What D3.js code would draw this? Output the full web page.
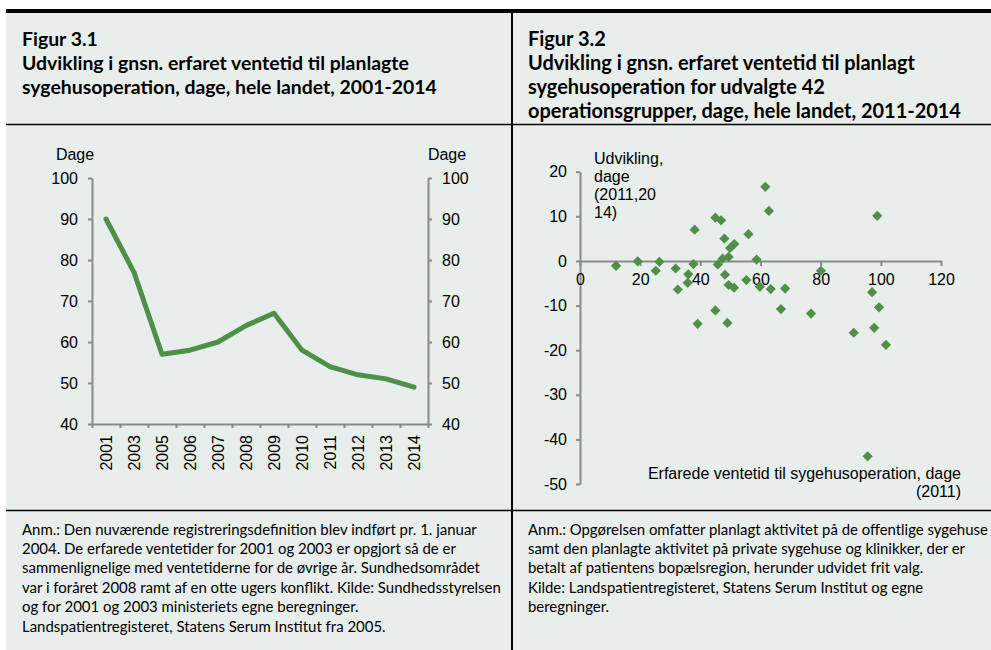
<!DOCTYPE html>
<html><head><meta charset="utf-8">
<script src="https://cdn.jsdelivr.net/npm/d3@7"></script>
<style>
body{margin:0;background:#fff}
svg text{fill:#000}
</style>
</head><body>
<svg id="c" width="991" height="650"></svg>
<script>
// ---------- data ----------
const years = ["2001","2003","2005","2006","2007","2008","2009","2010","2011","2012","2013","2014"];
const waitDays = [90,77,57,58,60,64,67,58,54,52,51,49];
const lineTicks = [40,50,60,70,80,90,100];

const wait2011 = [12.0,19.2,26.4,25.2,31.8,32.5,36.0,35.8,37.7,38.1,45.0,46.9,45.8,48.0,47.4,49.4,49.9,51.3,48.2,49.4,51.2,56.0,55.3,58.7,59.8,61.6,62.8,63.4,68.2,80.1,98.8,97.1,99.4,39.1,45.0,49.0,66.8,76.8,91.0,97.8,101.7,95.6];
const change1114 = [-1.1,-0.1,-0.2,-2.2,-1.7,-6.4,-3.0,-4.9,-0.7,7.0,9.7,9.1,-0.8,5.0,0.5,0.9,2.9,3.8,-3.1,-5.4,-6.0,6.0,-4.3,0.3,-5.8,16.6,11.2,-6.3,-6.2,-2.2,10.1,-7.0,-10.4,-14.1,-11.1,-13.9,-10.8,-11.8,-16.1,-15.0,-18.8,-43.8];
const scatterXTicks = [0,20,40,60,80,100,120];
const scatterYTicks = [-50,-40,-30,-20,-10,0,10,20];

const title1 = ["Figur 3.1","Udvikling i gnsn. erfaret ventetid til planlagte","sygehusoperation, dage, hele landet, 2001-2014"];
const title2 = ["Figur 3.2","Udvikling i gnsn. erfaret ventetid til planlagt","sygehusoperation for udvalgte 42","operationsgrupper, dage, hele landet, 2011-2014"];
const note1 = ["Anm.: Den nuværende registreringsdefinition blev indført pr. 1. januar",
"2004. De erfarede ventetider for 2001 og 2003 er opgjort så de er",
"sammenlignelige med ventetiderne for de øvrige år.  Sundhedsområdet",
"var i foråret 2008 ramt af en otte ugers konflikt. Kilde: Sundhedsstyrelsen",
"og for 2001 og 2003 ministeriets egne beregninger.",
"Landspatientregisteret, Statens Serum Institut fra 2005."];
const note2 = ["Anm.: Opgørelsen omfatter planlagt aktivitet på de offentlige sygehuse",
"samt den planlagte aktivitet på private sygehuse og klinikker, der er",
"betalt af patientens bopælsregion, herunder udvidet frit valg.",
"Kilde: Landspatientregisteret, Statens Serum Institut og egne",
"beregninger."];
const yTitle2 = ["Udvikling,","dage","(2011,20","14)"];
const xTitle2 = ["Erfarede ventetid til sygehusoperation, dage","(2011)"];

// ---------- style ----------
const GREEN = "#4f8f47", AXIS = "#8a8a8a", BG = "#e7eeeb";
const CHART_FONT = "'Liberation Sans', Arial, sans-serif";
const TEXT_FONT = "Lato, 'Open Sans', sans-serif";
const FS = 16;
const fmt = d => String(d);

const svg = d3.select("#c");

// panel background and frame
svg.append("rect").attr("x",6).attr("y",13).attr("width",985).attr("height",637).attr("fill",BG);
svg.append("rect").attr("x",6).attr("y",9).attr("width",985).attr("height",4).attr("fill","#000");
svg.append("line").attr("x1",6).attr("x2",991).attr("y1",124.5).attr("y2",124.5).attr("stroke","#000").attr("stroke-width",1.5);
svg.append("line").attr("x1",6).attr("x2",991).attr("y1",510.5).attr("y2",510.5).attr("stroke","#000").attr("stroke-width",1.5);
svg.append("line").attr("x1",512).attr("x2",512).attr("y1",13).attr("y2",650).attr("stroke","#000").attr("stroke-width",2);

// text blocks scaled to target width
function textBlock(lines, x, y0, lh, refIdx, targetW, weight){
  const g = svg.append("g").attr("font-family",TEXT_FONT).attr("font-weight",weight);
  const t = g.selectAll("text").data(lines).join("text")
    .attr("x",x).attr("y",(d,i)=>y0+i*lh).attr("font-size",16).text(d=>d);
  const w = t.nodes()[refIdx].getComputedTextLength();
  t.attr("font-size", 16*targetW/w);
}
textBlock(title1, 22, 46, 24, 1, 387, "bold");
textBlock(title2, 528, 46, 24, 1, 387, "bold");
textBlock(note1, 22, 534.5, 19.4, 0, 455, "normal");
textBlock(note2, 528, 534.5, 19.4, 0, 460, "normal");

// ---------- Figure 3.1 line chart ----------
const L = {x0:92, x1:428, yTop:178, yBot:424};
const xb = d3.scaleBand().domain(years).range([L.x0,L.x1]);
const xi = d3.scaleLinear().domain([0,years.length]).range([L.x0,L.x1]);
const yl = d3.scaleLinear().domain([40,100]).range([L.yBot,L.yTop]);

function styleAxis(g){
  g.selectAll(".domain").attr("stroke",AXIS).attr("stroke-width",2);
  g.selectAll(".tick line").attr("stroke",AXIS).attr("stroke-width",2);
  g.selectAll("text").attr("font-family",CHART_FONT).attr("font-size",FS).attr("fill","#000");
}
const ax1 = svg.append("g").attr("transform",`translate(${L.x0},0)`)
  .call(d3.axisLeft(yl).tickValues(lineTicks).tickFormat(fmt).tickSize(4).tickSizeOuter(0).tickPadding(10));
styleAxis(ax1);
const ax2 = svg.append("g").attr("transform",`translate(${L.x1},0)`)
  .call(d3.axisRight(yl).tickValues(lineTicks).tickFormat(fmt).tickSize(4).tickSizeOuter(0).tickPadding(10));
styleAxis(ax2);
const ax3 = svg.append("g").attr("transform",`translate(0,${L.yBot})`)
  .call(d3.axisBottom(xi).tickValues(d3.range(years.length+1)).tickFormat("").tickSize(4).tickSizeOuter(0));
styleAxis(ax3);
const ax4 = svg.append("g").attr("transform",`translate(0,${L.yBot})`)
  .call(d3.axisBottom(xb).tickSize(0).tickSizeOuter(0));
ax4.select(".domain").remove();
styleAxis(ax4);
ax4.selectAll("text").attr("transform","rotate(-90)").attr("x",-11).attr("y",0).attr("dy","0.35em").attr("text-anchor","end");

svg.append("path").datum(waitDays)
  .attr("d", d3.line().x((d,i)=>xb(years[i])+xb.bandwidth()/2).y(d=>yl(d)))
  .attr("fill","none").attr("stroke",GREEN).attr("stroke-width",5).attr("stroke-linejoin","round").attr("stroke-linecap","round");

svg.append("text").attr("x",75).attr("y",160).attr("text-anchor","middle")
  .attr("font-family",CHART_FONT).attr("font-size",FS).text("Dage");
svg.append("text").attr("x",447).attr("y",160).attr("text-anchor","middle")
  .attr("font-family",CHART_FONT).attr("font-size",FS).text("Dage");

// ---------- Figure 3.2 scatter ----------
const xs = d3.scaleLinear().domain([0,120]).range([580,941]);
const ys = d3.scaleLinear().domain([-50,20]).range([484,171.7]);

const ay = svg.append("g").attr("transform",`translate(${xs(0)},0)`)
  .call(d3.axisLeft(ys).tickValues(scatterYTicks).tickFormat(fmt).tickSize(4).tickSizeOuter(0).tickPadding(9));
styleAxis(ay);
const axx = svg.append("g").attr("transform",`translate(0,${ys(0)})`)
  .call(d3.axisBottom(xs).tickValues(scatterXTicks).tickFormat(fmt).tickSize(5).tickSizeOuter(0).tickPadding(8));
styleAxis(axx);

const sym = d3.symbol().type(d3.symbolSquare).size(52);
svg.append("g").selectAll("path").data(wait2011).join("path")
  .attr("d",sym)
  .attr("transform",(d,i)=>`translate(${xs(d)},${ys(change1114[i])}) rotate(45)`)
  .attr("fill",GREEN);

svg.append("g").attr("font-family",CHART_FONT).attr("font-size",FS)
  .selectAll("text").data(yTitle2).join("text")
  .attr("x",594).attr("y",(d,i)=>164+i*18).text(d=>d);
svg.append("g").attr("font-family",CHART_FONT).attr("font-size",FS).attr("text-anchor","end")
  .selectAll("text").data(xTitle2).join("text")
  .attr("x",961).attr("y",(d,i)=>479+i*18).text(d=>d);
</script>
</body></html>
